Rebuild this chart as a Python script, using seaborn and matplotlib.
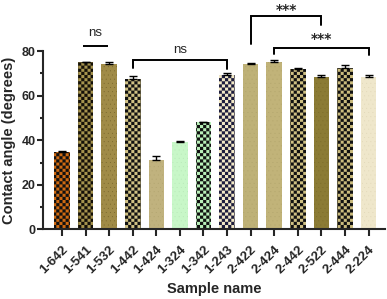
import warnings
warnings.filterwarnings("ignore")
import numpy as np
import pandas as pd
import matplotlib
matplotlib.use("Agg")
import matplotlib.pyplot as plt
import matplotlib.hatch as mhatch
from matplotlib.path import Path
from matplotlib.ticker import MultipleLocator
import seaborn as sns

# ---------------- data ----------------
sample_names = ["1-642", "1-541", "1-532", "1-442", "1-424", "1-324", "1-342",
                "1-243", "2-422", "2-424", "2-442", "2-522", "2-444", "2-224"]
contact_angle = [34.8, 74.9, 74.0, 67.7, 31.1, 39.3, 48.0,
                 69.2, 74.4, 75.2, 71.9, 68.4, 72.5, 68.2]
angle_error = [0.4, 0.4, 1.2, 1.2, 1.8, 0.3, 0.3,
               1.0, 0.4, 1.0, 0.6, 1.1, 1.4, 0.9]
face_colors = ["#CF6A12", "#A5934E", "#A08B47", "#D0C184", "#C0B27E", "#C8F7C8", "#B9F0B9",
               "#F3E9C6", "#BEB177", "#C1B379", "#CEBF82", "#8B7B35", "#CABB7D", "#EFE7CB"]
pattern_colors = ["#111111", "#141008", "#6B5A22", "#111111", "#ADA06A", "#B3E3B3", "#111111",
                  "#1D1D3D", "#ABA066", "#ADA068", "#111111", "#766626", "#111111", "#DDD3B2"]
patterns = ["#", "#", "....", "#", "....", "....", "#",
            "#", "....", "....", "#", "....", "#", "...."]

# significance annotations
sig_ns_pair = (0.89, 1.95, 82.3, "ns", 88.0)
sig_brackets = [
    # (left bar, right bar, bracket top, left leg end, right leg end, label, label y)
    (3, 7, 75.9, 72.3, 71.9, "ns", 80.7),
    (8, 11, 95.8, 83.4, 91.9, "***", 98.3),
    (9, 13, 81.4, 78.5, 78.2, "***", 85.6),
]


# ---------------- checkerboard hatch ----------------
class CheckerHatch(mhatch.HatchPatternBase):
    def __init__(self, hatch, density):
        self.n = 32 if "#" in hatch else 0
        self.num_vertices = (self.n * self.n // 2) * 5

    def set_vertices_and_codes(self, vertices, codes):
        n = self.n
        s = 1.0 / n
        k = 0
        for i in range(n):
            for j in range(n):
                if (i + j) % 2 == 0:
                    x0, y0 = i * s, j * s
                    vertices[k:k + 5] = [[x0, y0], [x0 + s, y0], [x0 + s, y0 + s],
                                         [x0, y0 + s], [x0, y0]]
                    codes[k:k + 5] = [Path.MOVETO, Path.LINETO, Path.LINETO,
                                      Path.LINETO, Path.CLOSEPOLY]
                    k += 5


mhatch._hatch_types.append(CheckerHatch)

# ---------------- style ----------------
sns.set_style("ticks")
plt.rcParams["font.family"] = ["Liberation Sans", "DejaVu Sans"]
plt.rcParams["font.weight"] = "bold"
plt.rcParams["hatch.linewidth"] = 0.05
plt.rcParams["axes.linewidth"] = 1.5

fig = plt.figure(figsize=(3.87, 2.99), dpi=100)
ax = fig.add_axes([0.112, 0.233, 0.883, 0.596])

df = pd.DataFrame({"Sample": sample_names, "Angle": contact_angle})
sns.barplot(data=df, x="Sample", y="Angle", hue="Sample",
            palette=dict(zip(sample_names, face_colors)),
            errorbar=None, width=0.66, legend=False, ax=ax, saturation=1)

bars = list(ax.patches)
for p, h, hc in zip(bars, patterns, pattern_colors):
    p.set_hatch(h)
    p.set_edgecolor(hc)
    p.set_linewidth(0)

xs = [p.get_x() + p.get_width() / 2 for p in bars]
hs = [p.get_height() for p in bars]
ax.errorbar(xs, hs, yerr=[np.zeros(len(hs)), angle_error], fmt="none",
            ecolor="black", elinewidth=1.0, capsize=2.6, capthick=1.0, zorder=3)

# axes
ax.set_ylim(0, 80)
ax.set_xlim(-0.79, 13.70)
ax.yaxis.set_major_locator(MultipleLocator(20))
ax.yaxis.set_minor_locator(MultipleLocator(10))
sns.despine(ax=ax)
ax.tick_params(axis="y", which="major", length=4.2, width=1.5, labelsize=9, pad=1.5)
ax.tick_params(axis="y", which="minor", length=2.4, width=1.5)
ax.tick_params(axis="x", which="major", length=5, width=1.5, labelsize=9.5, pad=5.5)
ax.set_xticks(range(len(sample_names)))
ax.set_xticklabels(sample_names, rotation=45, ha="right", va="top",
                   rotation_mode="anchor")
for lab in ax.get_yticklabels() + ax.get_xticklabels():
    lab.set_fontweight("bold")

ax.set_xlabel("Sample name", fontsize=10.5, fontweight="bold")
ax.set_ylabel("Contact angle (degrees)", fontsize=10.5, fontweight="bold")
ax.xaxis.set_label_coords(0.5, -0.335)
ax.xaxis.label.set_va("center")
ax.yaxis.set_label_coords(-0.100, 0.5)
ax.yaxis.label.set_va("center")

# significance marks
x0, x1, yl, txt, ty = sig_ns_pair
ax.plot([x0, x1], [yl, yl], color="black", lw=1.4, clip_on=False, solid_capstyle="butt")
ax.text((x0 + x1) / 2, ty, txt, ha="center", va="center", fontsize=9.5,
        fontweight="normal", clip_on=False)
for i0, i1, top, l0, l1, txt, ty in sig_brackets:
    xa, xb = xs[i0], xs[i1]
    ax.plot([xa, xa, xb, xb], [l0, top, top, l1], color="black", lw=1.4,
            clip_on=False, solid_joinstyle="miter")
    if txt == "ns":
        ax.text((xa + xb) / 2, ty, txt, ha="center", va="center", fontsize=9.5,
                fontweight="normal", clip_on=False)
    else:
        ax.text((xa + xb) / 2, ty, txt, ha="center", va="center", fontsize=10,
                fontweight="bold", family="DejaVu Sans", clip_on=False)

fig.savefig("out.png", dpi=100)
